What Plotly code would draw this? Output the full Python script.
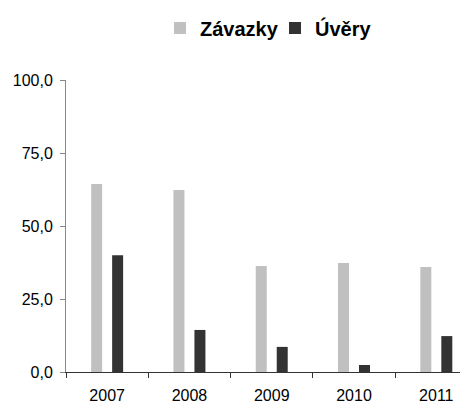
import plotly.graph_objects as go

years = ["2007", "2008", "2009", "2010", "2011"]
zavazky = [64.4, 62.3, 36.3, 37.3, 36.0]
uvery = [40.0, 14.4, 8.6, 2.4, 12.3]
y_ticks = [0, 25, 50, 75, 100]

fig = go.Figure()
fig.add_trace(go.Bar(name="Závazky", x=years, y=zavazky, marker=dict(color="#c0c0c0", line=dict(width=0))))
fig.add_trace(go.Bar(name="Úvěry", x=years, y=uvery, marker=dict(color="#333333", line=dict(width=0))))

# page body has an 8px margin, so the figure is 8px smaller and offset
fig.update_layout(
    width=460, height=397,
    margin=dict(l=58, r=0, t=72, b=33, autoexpand=False),
    paper_bgcolor="white", plot_bgcolor="white",
    barmode="group", bargap=0.49, bargroupgap=0.476,
    separators=",.",
    font=dict(family="Liberation Sans, Arial, sans-serif", size=16, color="black"),
    showlegend=True,
    legend=dict(orientation="h", x=152 / 460, xanchor="left", xref="container",
                y=1 - 20 / 397, yanchor="middle", yref="container",
                font=dict(size=20, family="Liberation Sans, Arial, sans-serif", weight="bold"),
                itemwidth=30, traceorder="normal", entrywidth=70, entrywidthmode="pixels"),
    xaxis=dict(type="category", range=[-0.5, 4.385], showline=True, linecolor="#333333", linewidth=1,
               ticks="outside", tickson="boundaries", ticklen=5, tickcolor="#333333",
               showgrid=False, zeroline=False, ticklabelstandoff=9, automargin=False),
    yaxis=dict(range=[0, 100], tickvals=y_ticks, tickformat=".1f", showline=True, linecolor="#888888",
               linewidth=1, ticks="outside", ticklen=5, tickcolor="#888888", showgrid=False,
               zeroline=False, ticklabelstandoff=4, automargin=False),
)
fig.write_html("out.html")
